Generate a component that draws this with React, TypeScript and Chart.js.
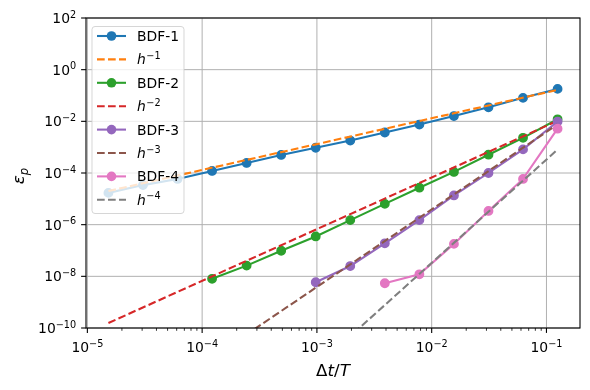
import React, { useEffect, useRef } from "react";
import { Chart, registerables } from "chart.js";

Chart.register(...registerables);

// Step sizes Δt/T
const dt = [
  1.52587890625e-5, 3.0517578125e-5, 6.103515625e-5, 1.220703125e-4,
  2.44140625e-4, 4.8828125e-4, 9.765625e-4, 1.953125e-3, 3.90625e-3,
  7.8125e-3, 1.5625e-2, 3.125e-2, 6.25e-2, 0.125,
];

// Errors (last points align with the largest dt)
const bdf1Err = [1.7e-5, 3.4e-5, 5.9e-5, 1.2e-4, 2.45e-4, 5.0e-4, 9.5e-4, 1.8e-3, 3.7e-3, 7.5e-3, 1.6e-2, 3.5e-2, 8.1e-2, 0.18];
const bdf2Err = [8.0e-9, 2.6e-8, 9.8e-8, 3.5e-7, 1.5e-6, 6.4e-6, 2.7e-5, 1.1e-4, 5.1e-4, 2.3e-3, 1.2e-2];
const bdf3Err = [5.9e-9, 2.5e-8, 1.9e-7, 1.5e-6, 1.35e-5, 1.0e-4, 8.2e-4, 9.8e-3];
const bdf4Err = [5.4e-9, 1.2e-8, 1.8e-7, 3.4e-6, 5.9e-5, 5.2e-3];

// Reference slopes h^p: end points at dt[0] and dt[last]
const refX = [1.52587890625e-5, 0.125];
const ref1 = [2.0e-5, 0.165];
const ref2 = [1.56e-10, 0.0105];
const ref3 = [1.38e-14, 0.0076];
const ref4 = [1.8e-19, 8.1e-4];

const seriesNames = ["BDF-1", "BDF-2", "BDF-3", "BDF-4"];
const refExps = ["\u22121", "\u22122", "\u22123", "\u22124"];

const xTickExps = [-5, -4, -3, -2, -1];
const yTickExps = [2, 0, -2, -4, -6, -8, -10];

const X_MIN = 9.73e-6;
const X_MAX = 0.196;
const Y_MIN = 1e-10;
const Y_MAX = 1e2;

const COLORS = ["#1f77b4", "#ff7f0e", "#2ca02c", "#d62728", "#9467bd", "#8c564b", "#e377c2", "#7f7f7f"];

const FF = "'DejaVu Sans'";
const F_TICK = 13.9;
const F_SUP = 9.7;
const F_LABEL = 16.7;

function pts(xs: number[], ys: number[]) {
  const off = xs.length - ys.length;
  return ys.map((y, i) => ({ x: xs[off + i], y }));
}

function drawPow(ctx: CanvasRenderingContext2D, exp: string, x: number, y: number, align: "center" | "right") {
  ctx.font = `${F_TICK}px ${FF}`;
  const w1 = ctx.measureText("10").width;
  ctx.font = `${F_SUP}px ${FF}`;
  const w2 = ctx.measureText(exp).width;
  const total = w1 + w2;
  const sx = align === "center" ? x - total / 2 : x - total;
  ctx.textAlign = "left";
  ctx.textBaseline = "alphabetic";
  ctx.font = `${F_TICK}px ${FF}`;
  ctx.fillText("10", sx, y);
  ctx.font = `${F_SUP}px ${FF}`;
  ctx.fillText(exp, sx + w1, y - 5.5);
}

function fmtExp(e: number) {
  return e < 0 ? "\u2212" + String(-e) : String(e);
}

const mplPlugin = {
  id: "mplDecor",
  beforeDatasetsDraw(chart: any) {
    const { ctx, chartArea: a, scales } = chart;
    ctx.save();
    ctx.strokeStyle = "#b0b0b0";
    ctx.lineWidth = 1;
    for (const e of xTickExps) {
      const px = scales.x.getPixelForValue(Math.pow(10, e));
      ctx.beginPath();
      ctx.moveTo(px, a.top);
      ctx.lineTo(px, a.bottom);
      ctx.stroke();
    }
    for (const e of yTickExps) {
      const py = scales.y.getPixelForValue(Math.pow(10, e));
      ctx.beginPath();
      ctx.moveTo(a.left, py);
      ctx.lineTo(a.right, py);
      ctx.stroke();
    }
    ctx.restore();
  },
  afterDatasetsDraw(chart: any) {
    const { ctx, chartArea: a, scales } = chart;
    ctx.save();
    // spines
    ctx.strokeStyle = "#000";
    ctx.lineWidth = 1.1;
    ctx.strokeRect(a.left, a.top, a.right - a.left, a.bottom - a.top);

    // x ticks
    ctx.fillStyle = "#000";
    for (const e of xTickExps) {
      const px = scales.x.getPixelForValue(Math.pow(10, e));
      ctx.lineWidth = 1.1;
      ctx.beginPath();
      ctx.moveTo(px, a.bottom);
      ctx.lineTo(px, a.bottom + 4.9);
      ctx.stroke();
      drawPow(ctx, fmtExp(e), px, a.bottom + 24, "center");
    }
    // x minor ticks
    ctx.lineWidth = 0.8;
    for (let e = -6; e <= 0; e++) {
      for (let m = 2; m <= 9; m++) {
        const v = m * Math.pow(10, e);
        if (v < X_MIN || v > X_MAX) continue;
        const px = scales.x.getPixelForValue(v);
        ctx.beginPath();
        ctx.moveTo(px, a.bottom);
        ctx.lineTo(px, a.bottom + 2.8);
        ctx.stroke();
      }
    }
    // y ticks
    for (const e of yTickExps) {
      const py = scales.y.getPixelForValue(Math.pow(10, e));
      ctx.lineWidth = 1.1;
      ctx.beginPath();
      ctx.moveTo(a.left, py);
      ctx.lineTo(a.left - 4.9, py);
      ctx.stroke();
      drawPow(ctx, fmtExp(e), a.left - 9.8, py + 5, "right");
    }

    // x title: Δt/T
    const cx = (a.left + a.right) / 2;
    const parts: [string, boolean][] = [["\u0394", false], ["t", true], ["/", false], ["T", true]];
    let tw = 0;
    const widths: number[] = [];
    for (const [s, it] of parts) {
      ctx.font = `${it ? "italic " : ""}${F_LABEL}px ${FF}`;
      const w = ctx.measureText(s).width;
      widths.push(w);
      tw += w;
    }
    let xx = cx - tw / 2;
    ctx.textAlign = "left";
    ctx.textBaseline = "alphabetic";
    parts.forEach(([s, it], i) => {
      ctx.font = `${it ? "italic " : ""}${F_LABEL}px ${FF}`;
      ctx.fillText(s, xx, 376);
      xx += widths[i];
    });

    // y title: ε_p
    const cy = (a.top + a.bottom) / 2 + 3;
    ctx.save();
    ctx.translate(24, cy);
    ctx.rotate(-Math.PI / 2);
    ctx.font = `italic ${F_LABEL}px ${FF}`;
    const we = ctx.measureText("\u03b5").width;
    ctx.font = `italic ${F_LABEL * 0.7}px ${FF}`;
    const wp = ctx.measureText("p").width;
    const tot = we + wp;
    ctx.font = `italic ${F_LABEL}px ${FF}`;
    ctx.fillText("\u03b5", -tot / 2, 0);
    ctx.font = `italic ${F_LABEL * 0.7}px ${FF}`;
    ctx.fillText("p", -tot / 2 + we, 3.5);
    ctx.restore();

    // legend
    const bx = a.left + 6;
    const by = a.top + 8.5;
    const bw = 92;
    const bh = 187;
    ctx.beginPath();
    const r = 3;
    ctx.moveTo(bx + r, by);
    ctx.lineTo(bx + bw - r, by);
    ctx.quadraticCurveTo(bx + bw, by, bx + bw, by + r);
    ctx.lineTo(bx + bw, by + bh - r);
    ctx.quadraticCurveTo(bx + bw, by + bh, bx + bw - r, by + bh);
    ctx.lineTo(bx + r, by + bh);
    ctx.quadraticCurveTo(bx, by + bh, bx, by + bh - r);
    ctx.lineTo(bx, by + r);
    ctx.quadraticCurveTo(bx, by, bx + r, by);
    ctx.closePath();
    ctx.fillStyle = "rgba(255,255,255,0.8)";
    ctx.fill();
    ctx.strokeStyle = "rgba(204,204,204,0.8)";
    ctx.lineWidth = 1;
    ctx.stroke();

    for (let i = 0; i < 8; i++) {
      const ry = by + 9.5 + i * 23.4;
      const col = COLORS[i];
      const isRef = i % 2 === 1;
      ctx.strokeStyle = col;
      ctx.lineWidth = 2.08;
      ctx.setLineDash(isRef ? [7.7, 3.3] : []);
      ctx.beginPath();
      ctx.moveTo(bx + 5, ry);
      ctx.lineTo(bx + 34, ry);
      ctx.stroke();
      ctx.setLineDash([]);
      if (!isRef) {
        ctx.fillStyle = col;
        ctx.beginPath();
        ctx.arc(bx + 19.5, ry, 4.8, 0, Math.PI * 2);
        ctx.fill();
      }
      ctx.fillStyle = "#000";
      ctx.textAlign = "left";
      ctx.textBaseline = "alphabetic";
      const tx = bx + 45;
      if (!isRef) {
        ctx.font = `${F_TICK}px ${FF}`;
        ctx.fillText(seriesNames[i / 2], tx, ry + 5);
      } else {
        ctx.font = `italic ${F_TICK}px ${FF}`;
        ctx.fillText("h", tx, ry + 5);
        const wh = ctx.measureText("h").width;
        ctx.font = `${F_SUP}px ${FF}`;
        ctx.fillText(refExps[(i - 1) / 2], tx + wh + 0.5, ry - 0.5);
      }
    }
    ctx.restore();
  },
};

export default function App() {
  const ref = useRef<HTMLCanvasElement | null>(null);
  useEffect(() => {
    if (!ref.current) return;
    const mk = (ys: number[], i: number) => ({
      label: seriesNames[i / 2],
      data: pts(dt, ys),
      borderColor: COLORS[i],
      backgroundColor: COLORS[i],
      pointBackgroundColor: COLORS[i],
      pointBorderColor: COLORS[i],
      pointBorderWidth: 1.4,
      pointRadius: 4.2,
      borderWidth: 2.08,
      showLine: true,
      tension: 0,
      order: 10 - i,
    });
    const mkRef = (ys: number[], i: number) => ({
      label: "h" + refExps[(i - 1) / 2],
      data: pts(refX, ys),
      borderColor: COLORS[i],
      backgroundColor: COLORS[i],
      borderDash: [7.7, 3.3],
      pointRadius: 0,
      borderWidth: 2.08,
      showLine: true,
      tension: 0,
      order: 10 - i,
    });
    const chart = new Chart(ref.current, {
      type: "scatter",
      data: {
        datasets: [
          mk(bdf1Err, 0), mkRef(ref1, 1),
          mk(bdf2Err, 2), mkRef(ref2, 3),
          mk(bdf3Err, 4), mkRef(ref3, 5),
          mk(bdf4Err, 6), mkRef(ref4, 7),
        ] as any,
      },
      options: {
        animation: false,
        responsive: false,
        devicePixelRatio: 1,
        layout: { padding: { left: 86, right: 10, top: 18, bottom: 62 } },
        plugins: { legend: { display: false }, tooltip: { enabled: false } },
        events: [],
        scales: {
          x: { type: "logarithmic", display: false, min: X_MIN, max: X_MAX, bounds: "data" },
          y: { type: "logarithmic", display: false, min: Y_MIN, max: Y_MAX, bounds: "data" },
        },
      } as any,
      plugins: [mplPlugin],
    });
    return () => chart.destroy();
  }, []);
  return (
    <div style={{ position: "absolute", left: 0, top: 0, width: 590, height: 390, background: "#fff" }}>
      <canvas ref={ref} width={590} height={390} />
    </div>
  );
}
